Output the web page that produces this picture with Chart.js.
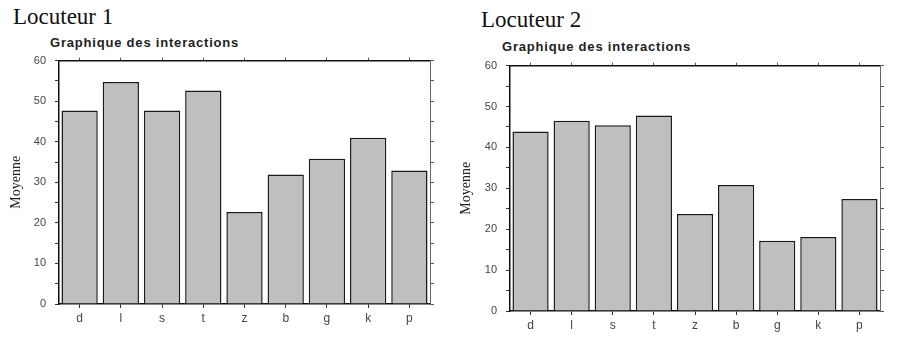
<!DOCTYPE html>
<html>
<head>
<meta charset="utf-8">
<script src="https://cdn.jsdelivr.net/npm/chart.js@4.4.1/dist/chart.umd.min.js"></script>
<style>
  body { margin: 0; background: #fff; width: 901px; height: 337px; position: relative; overflow: hidden; }
  .head { position: absolute; font-family: "Liberation Serif", serif; font-size: 23px; line-height: 26px; color: #111; }
  .sub { position: absolute; font-family: "Liberation Sans", Arial, sans-serif; font-weight: bold; font-size: 13px; letter-spacing: 0.8px; line-height: 15px; color: #222; }
  canvas { position: absolute; }
</style>
</head>
<body>
<div class="head" style="left:13px; top:4px;">Locuteur 1</div>
<div class="sub" style="left:50px; top:35px;">Graphique des interactions</div>
<div class="head" style="left:481px; top:7px;">Locuteur 2</div>
<div class="sub" style="left:502px; top:39px;">Graphique des interactions</div>
<canvas id="chart1" width="445" height="285" style="left:0; top:45px;"></canvas>
<canvas id="chart2" width="445" height="285" style="left:450px; top:50px;"></canvas>
<script>
const phonemes = ['d', 'l', 's', 't', 'z', 'b', 'g', 'k', 'p'];
const locuteur1 = [47.7, 54.7, 47.7, 52.6, 22.7, 31.9, 35.8, 41, 32.9];
const locuteur2 = [43.9, 46.5, 45.4, 47.8, 23.7, 30.8, 17.2, 18.1, 27.4];
const yTicks = [0, 10, 20, 30, 40, 50, 60];

const tickFont = { family: 'Liberation Sans, Arial, sans-serif', size: 11 };

function makeChart(id, values, yWidth, padTop, padBottom) {
    return new Chart(document.getElementById(id), {
        type: 'bar',
        data: {
            labels: phonemes,
            datasets: [{
                data: values,
                backgroundColor: '#bfbfbf',
                borderColor: '#1a1a1a',
                borderWidth: 1.5,
                borderSkipped: 'bottom',
                barPercentage: 0.88,
                categoryPercentage: 1
            }]
        },
        options: {
            responsive: false,
            animation: false,
            devicePixelRatio: 1,
            layout: { padding: { top: padTop, bottom: padBottom, left: 0, right: 9 } },
            plugins: { legend: { display: false }, tooltip: { enabled: false } },
            scales: {
                x: {
                    position: 'bottom',
                    grid: { display: true, drawOnChartArea: false, offset: false, tickLength: 4, color: '#333' },
                    border: { display: true, color: '#111', width: 1.5 },
                    ticks: { font: { family: 'Liberation Sans, Arial, sans-serif', size: 12 }, color: '#444', padding: 3 },
                    afterFit: s => { s.height = 22; }
                },
                x2: {
                    position: 'top',
                    labels: phonemes,
                    grid: { display: true, drawOnChartArea: false, offset: false, tickLength: 3, color: '#555' },
                    border: { display: true, color: '#111', width: 1.5 },
                    ticks: { display: false },
                    afterFit: s => { s.height = 4; }
                },
                y: {
                    min: 0,
                    max: 60,
                    position: 'left',
                    afterBuildTicks: s => {
                        const t = [];
                        for (let v = 0; v <= 60; v += 5) t.push({ value: v });
                        s.ticks = t;
                    },
                    grid: { display: true, drawOnChartArea: false, tickLength: 4, color: '#333' },
                    border: { display: true, color: '#111', width: 1.5 },
                    ticks: {
                        font: tickFont,
                        color: '#444',
                        padding: 9,
                        callback: v => yTicks.includes(v) ? String(v) : ''
                    },
                    title: {
                        display: true,
                        text: 'Moyenne',
                        font: { family: 'Liberation Serif, serif', size: 14 },
                        color: '#222',
                        padding: { top: 8, bottom: 0 }
                    },
                    afterFit: s => { s.width = yWidth; }
                },
                y2: {
                    min: 0,
                    max: 60,
                    position: 'right',
                    afterBuildTicks: s => {
                        const t = [];
                        for (let v = 0; v <= 60; v += 5) t.push({ value: v });
                        s.ticks = t;
                    },
                    grid: { display: true, drawOnChartArea: false, tickLength: 4, color: '#555' },
                    border: { display: true, color: '#666', width: 1 },
                    ticks: { display: false },
                    afterFit: s => { s.width = 6; }
                }
            }
        }
    });
}

makeChart('chart1', locuteur1, 59, 11, 4);
makeChart('chart2', locuteur2, 60, 10, 2);
</script>
</body>
</html>
